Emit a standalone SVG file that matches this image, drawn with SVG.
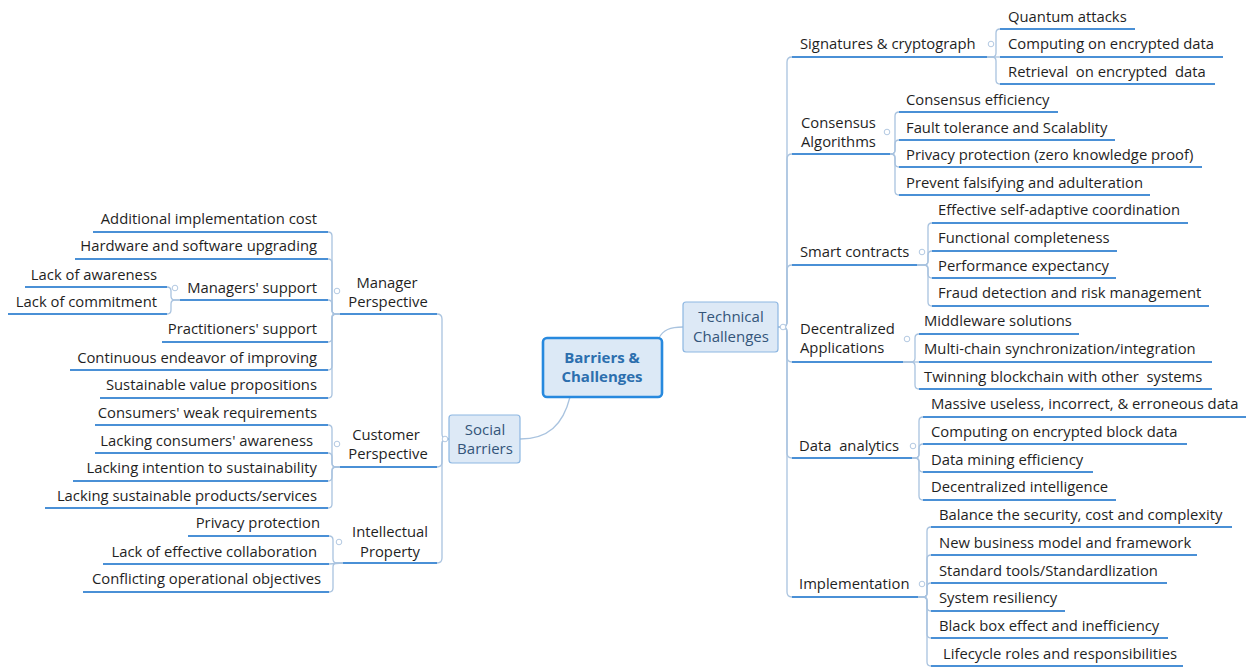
<svg xmlns="http://www.w3.org/2000/svg" width="1247" height="667" viewBox="0 0 1247 667">
  <style>
    text { font-family: "Open Sans", "Noto Sans", "Liberation Sans", sans-serif; font-size: 14.8px; fill: #1f1f1f; }
    .end { text-anchor: end; }
    .mid { text-anchor: middle; }
    .ul { stroke: #4a90d6; stroke-width: 2; fill: none; }
    .conn { fill: none; stroke: #a9c3df; stroke-width: 1.3; }
    .tog { fill: #ffffff; stroke: #b3c9e2; stroke-width: 1; }
    .box { fill: #dde9f6; stroke: #8db7e2; stroke-width: 1.2; }
    .root { fill: #dce9f6; stroke: #2789de; stroke-width: 2.6; }
    .t1 { fill: #34557a; font-size: 15px; }
    .t0 { fill: #2c6fae; font-weight: bold; font-size: 15px; }
  </style>

  <rect width="1247" height="667" fill="#ffffff"/>

  <!-- connectors -->
  <g id="connectors" class="conn">
    <!-- root to main branches -->
    <path d="M659 338 C663 330 670 327 683 327"/>
    <path d="M570 397 C563 425 548 439 520 439"/>

    <!-- Social Barriers -->
    <path d="M449 439 H447 Q442 439 442 434 V319 Q442 314 437 314"/>
    <path d="M449 439 H447 Q442 439 442 444 V462 Q442 467 437 467"/>
    <path d="M449 439 H447 Q442 439 442 444 V558 Q442 563 437 563"/>

    <!-- Manager Perspective -->
    <path d="M340 314 H336 Q332 314 332 310 V236 Q332 232 328 232"/>
    <path d="M340 314 H336 Q332 314 332 310 V263 Q332 259 328 259"/>
    <path d="M340 314 H336 Q332 314 332 310 V304 Q332 300 328 300"/>
    <path d="M340 314 H336 Q332 314 332 318 V338 Q332 342 328 342"/>
    <path d="M340 314 H336 Q332 314 332 318 V366 Q332 370 328 370"/>
    <path d="M340 314 H336 Q332 314 332 318 V394 Q332 398 328 398"/>

    <!-- Managers' support -->
    <path d="M180 300 H175 Q171 300 171 296 V291 Q171 287 167 287"/>
    <path d="M180 300 H175 Q171 300 171 304 V310 Q171 314 167 314"/>

    <!-- Customer Perspective -->
    <path d="M340 467 H336 Q332 467 332 463 V429 Q332 425 328 425"/>
    <path d="M340 467 H336 Q332 467 332 463 V457 Q332 453 328 453"/>
    <path d="M340 467 H336 Q332 467 332 471 V477 Q332 481 328 481"/>
    <path d="M340 467 H336 Q332 467 332 471 V504 Q332 508 328 508"/>

    <!-- Intellectual Property -->
    <path d="M343 563 H337 Q333 563 333 559 V540 Q333 536 329 536"/>
    <path d="M343 563 L329 564"/>
    <path d="M343 563 H337 Q333 563 333 567 V588 Q333 592 329 592"/>

    <!-- Technical Challenges -->
    <path d="M778 327 H782 Q787 327 787 322 V62 Q787 57 792 57"/>
    <path d="M778 327 H782 Q787 327 787 322 V159 Q787 154 792 154"/>
    <path d="M778 327 H782 Q787 327 787 322 V270 Q787 265 792 265"/>
    <path d="M778 327 H782 Q787 327 787 332 V357 Q787 362 792 362"/>
    <path d="M778 327 H782 Q787 327 787 332 V453 Q787 458 792 458"/>
    <path d="M778 327 H782 Q787 327 787 332 V592 Q787 597 792 597"/>

    <!-- Signatures & cryptograph -->
    <path d="M987 57 H992 Q996 57 996 53 V33 Q996 29 1000 29"/>
    <path d="M987 57 H1000"/>
    <path d="M987 57 H992 Q996 57 996 61 V80 Q996 84 1000 84"/>

    <!-- Consensus Algorithms -->
    <path d="M890 154 H891 Q895 154 895 150 V116 Q895 112 899 112"/>
    <path d="M890 154 H891 Q895 154 895 150 V144 Q895 140 899 140"/>
    <path d="M890 154 H891 Q895 154 895 158 V163 Q895 167 899 167"/>
    <path d="M890 154 H891 Q895 154 895 158 V191 Q895 195 899 195"/>

    <!-- Smart contracts -->
    <path d="M917 265 H924 Q928 265 928 261 V227 Q928 223 932 223"/>
    <path d="M917 265 H924 Q928 265 928 261 V255 Q928 251 932 251"/>
    <path d="M917 265 H924 Q928 265 928 269 V274 Q928 278 932 278"/>
    <path d="M917 265 H924 Q928 265 928 269 V302 Q928 306 932 306"/>

    <!-- Decentralized Applications -->
    <path d="M903 362 H911 Q915 362 915 358 V338 Q915 334 919 334"/>
    <path d="M903 362 H919"/>
    <path d="M903 362 H911 Q915 362 915 366 V385 Q915 389 919 389"/>

    <!-- Data analytics -->
    <path d="M912 458 H915 Q919 458 919 454 V421 Q919 417 923 417"/>
    <path d="M912 458 H915 Q919 458 919 454 V448 Q919 444 923 444"/>
    <path d="M912 458 H915 Q919 458 919 462 V468 Q919 472 923 472"/>
    <path d="M912 458 H915 Q919 458 919 462 V496 Q919 500 923 500"/>

    <!-- Implementation -->
    <path d="M918 597 H923 Q927 597 927 593 V531 Q927 527 931 527"/>
    <path d="M918 597 H923 Q927 597 927 593 V559 Q927 555 931 555"/>
    <path d="M918 597 H923 Q927 597 927 593 V587 Q927 583 931 583"/>
    <path d="M918 597 H923 Q927 597 927 601 V607 Q927 611 931 611"/>
    <path d="M918 597 H923 Q927 597 927 601 V634 Q927 638 931 638"/>
    <path d="M918 597 H923 Q927 597 927 601 V662 Q927 666 931 666"/>
  </g>

  <!-- central topic -->
  <g id="root">
    <rect class="root" x="543" y="338" width="119" height="59" rx="4"/>
    <text class="mid t0" x="602" y="363">Barriers &amp;</text>
    <text class="mid t0" x="602" y="382">Challenges</text>
  </g>

  <!-- main branches -->
  <g id="technical">
    <rect class="box" x="683" y="302" width="95" height="50" rx="3"/>
    <text class="mid t1" x="731" y="322">Technical</text>
    <text class="mid t1" x="731" y="342">Challenges</text>
    <circle class="tog" cx="783" cy="327" r="2.8"/>
  </g>
  <g id="social">
    <rect class="box" x="449" y="415" width="71" height="48" rx="3"/>
    <text class="mid t1" x="485" y="435">Social</text>
    <text class="mid t1" x="485" y="454">Barriers</text>
    <circle class="tog" cx="445" cy="439" r="2.8"/>
  </g>

  <!-- Social Barriers: sub-topics -->
  <g id="manager">
    <text class="mid" x="387" y="288">Manager</text>
    <text class="mid" x="388" y="307">Perspective</text>
    <line class="ul" x1="340" y1="314" x2="437" y2="314"/>
    <circle class="tog" cx="337" cy="291" r="2.8"/>
  </g>
  <g id="m-cost"><text class="end" x="317" y="224">Additional implementation cost</text><line class="ul" x1="93" y1="232" x2="328" y2="232"/></g>
  <g id="m-upgrade"><text class="end" x="317" y="251">Hardware and software upgrading</text><line class="ul" x1="75" y1="259" x2="328" y2="259"/></g>
  <g id="m-managers">
    <text class="end" x="317" y="293">Managers' support</text>
    <line class="ul" x1="180" y1="300" x2="328" y2="300"/>
    <circle class="tog" cx="175" cy="288" r="2.8"/>
  </g>
  <g id="m-awareness"><text class="end" x="157" y="280">Lack of awareness</text><line class="ul" x1="25" y1="287" x2="167" y2="287"/></g>
  <g id="m-commitment"><text class="end" x="157" y="307">Lack of commitment</text><line class="ul" x1="8" y1="314" x2="167" y2="314"/></g>
  <g id="m-practitioners"><text class="end" x="317" y="334">Practitioners' support</text><line class="ul" x1="162" y1="342" x2="328" y2="342"/></g>
  <g id="m-endeavor"><text class="end" x="317" y="363">Continuous endeavor of improving</text><line class="ul" x1="70" y1="370" x2="328" y2="370"/></g>
  <g id="m-value"><text class="end" x="317" y="390">Sustainable value propositions</text><line class="ul" x1="100" y1="398" x2="328" y2="398"/></g>

  <g id="customer">
    <text class="mid" x="386" y="440">Customer</text>
    <text class="mid" x="388" y="459">Perspective</text>
    <line class="ul" x1="340" y1="467" x2="437" y2="467"/>
    <circle class="tog" cx="337" cy="444" r="2.8"/>
  </g>
  <g id="c-weak"><text class="end" x="317" y="418">Consumers' weak requirements</text><line class="ul" x1="95" y1="425" x2="328" y2="425"/></g>
  <g id="c-awareness"><text class="end" x="313" y="446">Lacking consumers' awareness</text><line class="ul" x1="95" y1="453" x2="328" y2="453"/></g>
  <g id="c-intention"><text class="end" x="317" y="473">Lacking intention to sustainability</text><line class="ul" x1="73" y1="481" x2="328" y2="481"/></g>
  <g id="c-products"><text class="end" x="317" y="501">Lacking sustainable products/services</text><line class="ul" x1="45" y1="508" x2="328" y2="508"/></g>

  <g id="intellectual">
    <text class="mid" x="390" y="537">Intellectual</text>
    <text class="mid" x="390" y="557">Property</text>
    <line class="ul" x1="343" y1="563" x2="437" y2="563"/>
    <circle class="tog" cx="339" cy="542" r="2.8"/>
  </g>
  <g id="i-privacy"><text class="end" x="320" y="528">Privacy protection</text><line class="ul" x1="188" y1="536" x2="329" y2="536"/></g>
  <g id="i-collab"><text class="end" x="317" y="557">Lack of effective collaboration</text><line class="ul" x1="103" y1="564" x2="329" y2="564"/></g>
  <g id="i-objectives"><text class="end" x="321" y="584">Conflicting operational objectives</text><line class="ul" x1="83" y1="592" x2="329" y2="592"/></g>

  <!-- Technical Challenges: sub-topics -->
  <g id="signatures">
    <text x="800" y="49">Signatures &amp; cryptograph</text>
    <line class="ul" x1="792" y1="57" x2="987" y2="57"/>
    <circle class="tog" cx="991" cy="44" r="2.8"/>
  </g>
  <g id="s-quantum"><text x="1008" y="22">Quantum attacks</text><line class="ul" x1="1000" y1="29" x2="1135" y2="29"/></g>
  <g id="s-computing"><text x="1008" y="49">Computing on encrypted data</text><line class="ul" x1="1000" y1="57" x2="1223" y2="57"/></g>
  <g id="s-retrieval"><text x="1008" y="77" xml:space="preserve">Retrieval  on encrypted  data</text><line class="ul" x1="1000" y1="84" x2="1215" y2="84"/></g>

  <g id="consensus">
    <text x="801" y="128">Consensus</text>
    <text x="801" y="147">Algorithms</text>
    <line class="ul" x1="792" y1="154" x2="890" y2="154"/>
    <circle class="tog" cx="887" cy="132" r="2.8"/>
  </g>
  <g id="co-efficiency"><text x="906" y="105">Consensus efficiency</text><line class="ul" x1="899" y1="112" x2="1058" y2="112"/></g>
  <g id="co-fault"><text x="906" y="133">Fault tolerance and Scalablity</text><line class="ul" x1="899" y1="140" x2="1115" y2="140"/></g>
  <g id="co-privacy"><text x="906" y="160">Privacy protection (zero knowledge proof)</text><line class="ul" x1="899" y1="167" x2="1202" y2="167"/></g>
  <g id="co-falsify"><text x="906" y="188">Prevent falsifying and adulteration</text><line class="ul" x1="899" y1="195" x2="1150" y2="195"/></g>

  <g id="smart">
    <text x="800" y="257">Smart contracts</text>
    <line class="ul" x1="792" y1="265" x2="917" y2="265"/>
    <circle class="tog" cx="922" cy="252" r="2.8"/>
  </g>
  <g id="sc-adaptive"><text x="938" y="215">Effective self-adaptive coordination</text><line class="ul" x1="932" y1="223" x2="1188" y2="223"/></g>
  <g id="sc-functional"><text x="938" y="243">Functional completeness</text><line class="ul" x1="932" y1="251" x2="1117" y2="251"/></g>
  <g id="sc-performance"><text x="938" y="271">Performance expectancy</text><line class="ul" x1="932" y1="278" x2="1116" y2="278"/></g>
  <g id="sc-fraud"><text x="938" y="298">Fraud detection and risk management</text><line class="ul" x1="932" y1="306" x2="1209" y2="306"/></g>

  <g id="dapps">
    <text x="800" y="334">Decentralized</text>
    <text x="800" y="353">Applications</text>
    <line class="ul" x1="792" y1="362" x2="903" y2="362"/>
    <circle class="tog" cx="907" cy="339" r="2.8"/>
  </g>
  <g id="d-middleware"><text x="924" y="326">Middleware solutions</text><line class="ul" x1="919" y1="334" x2="1079" y2="334"/></g>
  <g id="d-multichain"><text x="924" y="354">Multi-chain synchronization/integration</text><line class="ul" x1="919" y1="362" x2="1212" y2="362"/></g>
  <g id="d-twinning"><text x="924" y="382" xml:space="preserve">Twinning blockchain with other  systems</text><line class="ul" x1="919" y1="389" x2="1212" y2="389"/></g>

  <g id="analytics">
    <text x="799" y="451" xml:space="preserve">Data  analytics</text>
    <line class="ul" x1="792" y1="458" x2="912" y2="458"/>
    <circle class="tog" cx="913" cy="446" r="2.8"/>
  </g>
  <g id="a-massive"><text x="931" y="409">Massive useless, incorrect, &amp; erroneous data</text><line class="ul" x1="923" y1="417" x2="1246" y2="417"/></g>
  <g id="a-computing"><text x="931" y="437">Computing on encrypted block data</text><line class="ul" x1="923" y1="444" x2="1187" y2="444"/></g>
  <g id="a-mining"><text x="931" y="465">Data mining efficiency</text><line class="ul" x1="923" y1="472" x2="1093" y2="472"/></g>
  <g id="a-intelligence"><text x="931" y="492">Decentralized intelligence</text><line class="ul" x1="923" y1="500" x2="1116" y2="500"/></g>

  <g id="implementation">
    <text x="799" y="589">Implementation</text>
    <line class="ul" x1="792" y1="597" x2="918" y2="597"/>
    <circle class="tog" cx="922" cy="584" r="2.8"/>
  </g>
  <g id="im-balance"><text x="939" y="520">Balance the security, cost and complexity</text><line class="ul" x1="931" y1="527" x2="1232" y2="527"/></g>
  <g id="im-business"><text x="939" y="548">New business model and framework</text><line class="ul" x1="931" y1="555" x2="1197" y2="555"/></g>
  <g id="im-standard"><text x="939" y="576">Standard tools/Standardlization</text><line class="ul" x1="931" y1="583" x2="1167" y2="583"/></g>
  <g id="im-resiliency"><text x="939" y="603">System resiliency</text><line class="ul" x1="931" y1="611" x2="1065" y2="611"/></g>
  <g id="im-blackbox"><text x="939" y="631">Black box effect and inefficiency</text><line class="ul" x1="931" y1="638" x2="1168" y2="638"/></g>
  <g id="im-lifecycle"><text x="943" y="659">Lifecycle roles and responsibilities</text><line class="ul" x1="931" y1="666" x2="1183" y2="666"/></g>
</svg>
